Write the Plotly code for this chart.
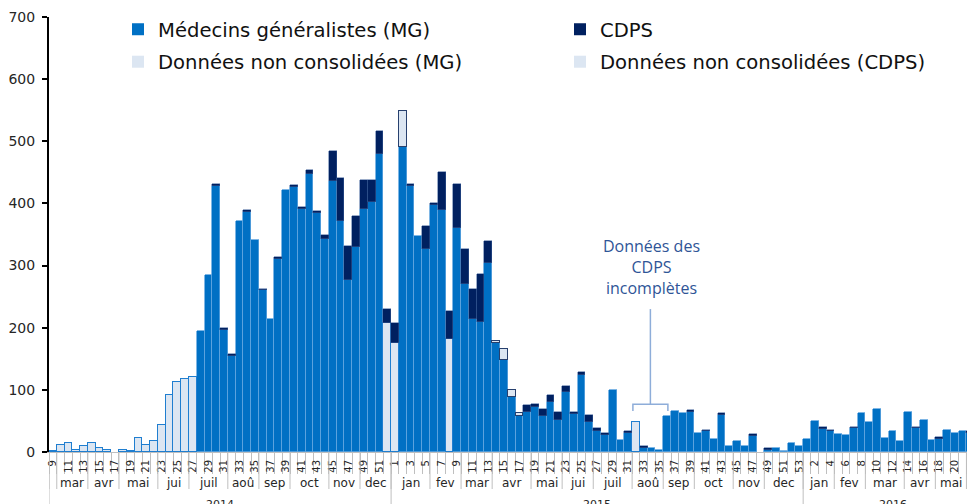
import plotly.graph_objects as go

N = None

# ---------------- data ----------------
years = [2014] * 44 + [2015] * 53 + [2016] * 23
weeks = list(range(9, 53)) + list(range(1, 54)) + list(range(1, 24))

# Médecins généralistes (consolidated)
mg_2014 = [N] * 19 + [195, 285, 428, 196, 155, 372, 387, 341, 260, 214, 311, 421,
                      427, 391, 447, 384, 342, 436, 372, 276, 330, 391, 402, 480, N]
mg_2015 = [N, 491, 428, 348, 327, 398, 389, N, 361, 271,
           214, 210, 304, 175, 148, 89, 58, 65, 73, 58,
           81, 52, 97, 61, 124, 49, 33, 28, 99, 19,
           30, N, 7, 7, 4, 58, 66, 63, 64, 30,
           33, 21, 60, 9, 18, 9, 25, N, 3, 6,
           2, 14, 10]
mg_2016 = [21, 50, 37, 33, 29, 27, 38, 62, 49, 69, 22, 34, 17, 64, 38, 51, 20, 21,
           35, 31, 33, 30, 45]

# Données non consolidées (MG)
mgnc_2014 = [2, 11, 15, 4, 9, 15, 7, 3, N, 3, 1, 23, 12, 17, 43, 91, 112, 117, 120] + [N] * 24 + [208]
mgnc_2015 = [175, N, N, N, N, N, N, 182] + [N] * 23 + [48] + [N] * 21
mgnc_2016 = [N] * 23

# CDPS (consolidated)
cdps_2014 = [N] * 21 + [3, 3, 3, N, 3, N, 3, N, 3, N, 3, 4, 6, 4, 7, 49, 69, 56, 49, 47, 36, 37, 22]
cdps_2015 = [33, N, 3, N, 36, 3, 62, 45, 70, 56,
             49, 76, 36, N, N, N, N, 11, 5, 11,
             10, 12, 10, 3, 4, 10, 5, 3, N, N,
             3, N, 3, N, N, N, N, N, 3, N,
             3, N, 3, N, N, N, 4, N, 3, N,
             N, N, N]
cdps_2016 = [N, N, 3, 3, N, N, 3, N, N, N, N, N, N, N, 3, N, N, 3, N, N, N, 3, N]

# Données non consolidées (CDPS)
cdpsnc_2014 = [N] * 44
cdpsnc_2015 = [N, 57] + [N] * 11 + [4, 17, 10, 5] + [N] * 36
cdpsnc_2016 = [N] * 23

mg = mg_2014 + mg_2015 + mg_2016
mg_nc = mgnc_2014 + mgnc_2015 + mgnc_2016
cdps = cdps_2014 + cdps_2015 + cdps_2016
cdps_nc = cdpsnc_2014 + cdpsnc_2015 + cdpsnc_2016

# months: (label, year, first week, last week)
months = [("", 2014, 9, 9), ("mar", 2014, 10, 13), ("avr", 2014, 14, 17), ("mai", 2014, 18, 22),
          ("jui", 2014, 23, 26), ("juil", 2014, 27, 31), ("aoû", 2014, 32, 35), ("sep", 2014, 36, 39),
          ("oct", 2014, 40, 44), ("nov", 2014, 45, 48), ("dec", 2014, 49, 52),
          ("jan", 2015, 1, 5), ("fev", 2015, 6, 9), ("mar", 2015, 10, 13), ("avr", 2015, 14, 18),
          ("mai", 2015, 19, 22), ("jui", 2015, 23, 26), ("juil", 2015, 27, 31), ("aoû", 2015, 32, 35),
          ("sep", 2015, 36, 39), ("oct", 2015, 40, 44), ("nov", 2015, 45, 48), ("dec", 2015, 49, 53),
          ("jan", 2016, 1, 4), ("fev", 2016, 5, 8), ("mar", 2016, 9, 13), ("avr", 2016, 14, 17),
          ("mai", 2016, 18, 21), ("jui", 2016, 22, 23)]
year_labels = ["2014", "2015", "2016"]

legend_names = ["Médecins généralistes (MG)", "CDPS",
                "Données non consolidées (MG)", "Données non consolidées (CDPS)"]

note_text = "Données des<br>CDPS<br>incomplètes"
note_weeks = (2015, 32, 36)   # bracket spans these weeks
note_y = 298
bracket_y, bracket_tip, stem_top = 77, 66, 230

# ---------------- styles ----------------
C_MG = "#0070C4"
C_CDPS = "#002060"
C_LIGHT = "#DCE6F2"
C_SEP = "#5EA4DE"
C_MG_OUT = "#1F7ED0"
C_CDPS_OUT = "#27406E"
C_AX = "#BFBFBF"
FONT = "DejaVu Sans"
TXT = "#262626"

# the page body has an 8px margin: figure is sized so that it fills the 975x504 window
W, HT = 967, 496

x = list(range(len(weeks)))


def idx(year, week):
    return next(i for i, (y, w) in enumerate(zip(years, weeks)) if y == year and w == week)


ticktext = [str(w) if ((y < 2016 and w % 2 == 1) or (y == 2016 and w % 2 == 0)) else ""
            for y, w in zip(years, weeks)]

fig = go.Figure()
fig.add_bar(x=x, y=mg, marker=dict(color=C_MG, line=dict(color=C_SEP, width=0.8)), showlegend=False)
fig.add_bar(x=x, y=mg_nc, marker=dict(color=C_LIGHT, line=dict(color=C_MG_OUT, width=1.5)), showlegend=False)
fig.add_bar(x=x, y=cdps, marker=dict(color=C_CDPS, line=dict(color="#3A5C96", width=0.5)), showlegend=False)
fig.add_bar(x=x, y=cdps_nc, marker=dict(color=C_LIGHT, line=dict(color=C_CDPS_OUT, width=1.2)), showlegend=False)

# legend entries
leg_colors = [C_MG, C_CDPS, C_LIGHT, C_LIGHT]
leg_ids = ["legend", "legend2", "legend", "legend2"]
for i, (nm, col, lg) in enumerate(zip(legend_names, leg_colors, leg_ids)):
    fig.add_bar(x=[N], y=[N], name=nm, marker=dict(color=col, line=dict(width=0)),
                legend=lg, legendgroup="g%d" % i, showlegend=True)

shapes = []
annotations = []
H = 435.0  # plot height px, used to place rows below axis
# month separators and labels
for lab, yr, w0, w1 in months:
    i0, i1 = idx(yr, w0), (idx(yr, w1) if (yr, w1) in zip(years, weeks) else len(x) - 1)
    shapes.append(dict(type="line", xref="x", yref="paper", x0=i0 - 0.5, x1=i0 - 0.5,
                       y0=0, y1=-37 / H, line=dict(color=C_AX, width=1)))
    if lab:
        if i1 - i0 >= 2:
            annotations.append(dict(x=(i0 + i1) / 2, y=-31 / H, xref="x", yref="paper", text=lab,
                                    showarrow=False, yanchor="middle", xanchor="center",
                                    font=dict(family=FONT, size=12, color=TXT)))
        else:
            annotations.append(dict(x=i0 - 0.3, y=-31 / H, xref="x", yref="paper", text=lab,
                                    showarrow=False, yanchor="middle", xanchor="left",
                                    font=dict(family=FONT, size=12, color=TXT)))
# year separators and labels
for k, yl in enumerate(year_labels):
    yr = int(yl)
    ids = [i for i, y in enumerate(years) if y == yr]
    shapes.append(dict(type="line", xref="x", yref="paper", x0=ids[0] - 0.5, x1=ids[0] - 0.5,
                       y0=0, y1=-60 / H, line=dict(color=C_AX, width=1)))
    annotations.append(dict(x=(ids[0] + ids[-1]) / 2, y=-44 / H, xref="x", yref="paper", text=yl,
                            showarrow=False, yanchor="top", xanchor="center",
                            font=dict(family=FONT, size=11, color=TXT)))

# note with bracket
bx0 = idx(*note_weeks[:2]) - 0.4
bx1 = idx(note_weeks[0], note_weeks[2]) + 0.1
bxc = (bx0 + bx1) / 2
shapes.append(dict(type="path", xref="x", yref="y",
                   path=f"M{bx0},{bracket_tip} L{bx0},{bracket_y} L{bx1},{bracket_y} L{bx1},{bracket_tip}",
                   line=dict(color="#8EADD9", width=1.5)))
shapes.append(dict(type="line", xref="x", yref="y", x0=bxc, x1=bxc, y0=bracket_y, y1=stem_top,
                   line=dict(color="#8EADD9", width=1.5)))
annotations.append(dict(x=bxc + 0.2, y=note_y, xref="x", yref="y", text=note_text, showarrow=False,
                        font=dict(family="Open Sans", size=16, color="#2F5597"), align="center"))

fig.update_layout(
    width=W, height=HT,
    margin=dict(l=41, r=0, t=9, b=52, autoexpand=False),
    barmode="stack", bargap=0,
    plot_bgcolor="white", paper_bgcolor="white",
    xaxis=dict(range=[-0.5, 118.6], tickmode="array", tickvals=x, ticktext=ticktext,
               tickangle=-90, ticks="", showline=True, linecolor=C_AX, linewidth=1,
               showgrid=False, zeroline=False, ticklabelstandoff=3, automargin=False,
               tickfont=dict(family=FONT, size=10, color=TXT),
               minor=dict(ticks="outside", tickmode="linear", tick0=0.5, dtick=1, ticklen=21,
                          tickcolor=C_AX, tickwidth=1, showgrid=False)),
    yaxis=dict(range=[0, 700], dtick=100, ticks="outside", ticklen=5, tickwidth=1.5,
               tickcolor="black", showline=True, linecolor="black", linewidth=2,
               showgrid=False, zeroline=False, ticklabelstandoff=4, automargin=False,
               tickfont=dict(family=FONT, size=14, color=TXT)),
    legend=dict(xref="container", yref="container", x=110 / W, y=1 - 2 / HT,
                xanchor="left", yanchor="top", orientation="v", traceorder="grouped",
                tracegroupgap=4, font=dict(family=FONT, size=19.6, color="#111"),
                bgcolor="rgba(0,0,0,0)"),
    legend2=dict(xref="container", yref="container", x=552 / W, y=1 - 2 / HT,
                 xanchor="left", yanchor="top", orientation="v", traceorder="grouped",
                 tracegroupgap=4, font=dict(family=FONT, size=19.6, color="#111"),
                 bgcolor="rgba(0,0,0,0)"),
    shapes=shapes, annotations=annotations,
)

fig.write_html("out.html")
